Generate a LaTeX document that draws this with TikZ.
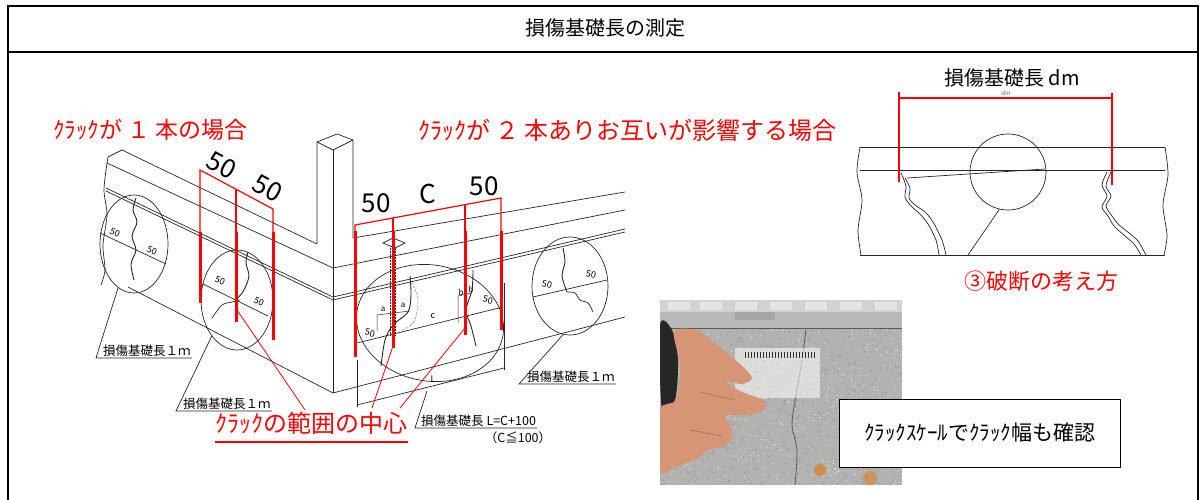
\documentclass[tikz,border=0pt]{standalone}
\usepackage{fontspec}
\setmainfont{Noto Sans CJK JP}
\usetikzlibrary{shapes.geometric}
\definecolor{skin}{RGB}{214,150,118}
\definecolor{granite}{RGB}{178,178,176}
\begin{document}
\begin{tikzpicture}[x=1pt,y=-1pt,
  sk/.style={draw=black!85,line width=0.7pt},
  rthin/.style={draw=red,line width=1.2pt},
  rthick/.style={draw=red,line width=3pt},
  rlead/.style={draw=red,line width=0.8pt},
  ell/.style={ellipse,draw=black!85,line width=0.7pt,inner sep=0pt},
  small/.style={font=\fontsize{8}{8}\selectfont,inner sep=0pt},
  dimlab/.style={font=\fontsize{9}{9}\selectfont,inner sep=0pt},
  sklab/.style={font=\fontsize{12.5}{12.5}\selectfont,inner sep=1pt,anchor=south west},
  big/.style={font=\fontsize{26}{26}\selectfont,inner sep=0pt},
  rtext/.style={text=red,inner sep=0pt},
]
\useasboundingbox (0,0) rectangle (1200,500);
% frame
\draw[line width=1.6pt] (8,500) -- (8,6) -- (1198,6) -- (1198,500);
\draw[line width=1.6pt] (8,52) -- (1198,52);
\node[font=\fontsize{20}{20}\selectfont] (title) at (605,28) {損傷基礎長の測定};

% ---------- left sketch: foundation ----------
\draw[sk] (108,157) -- (122,150) -- (317,244);
\draw[sk] (108,157) -- (107,163) -- (333,268);
\draw[sk] plot[smooth] coordinates {(107,163) (104,190) (107,215) (103,245) (105,270) (101,285)};
\draw[sk] (106,188) -- (333,297);
\draw[sk] (106,191) -- (333,300);
\draw[sk] (128,287) -- (333,393);
\draw[sk] (353,238) -- (625,192);
\draw[sk] (333,268) -- (625,210);
\draw[sk] (333,297) -- (625,229);
\draw[sk] (333,300) -- (625,232);
\draw[sk] (333,393) -- (625,317);
% post
\draw[sk] (317,244) -- (317,142) -- (337,134) -- (353,140) -- (353,238);
\draw[sk] (317,142) -- (333,150) -- (353,140);
\draw[sk] (333,150) -- (333,393);

% ellipse 1
\node[ell,minimum width=68pt,minimum height=98pt] (e1) at (134,244) {};
\draw[sk] (100,233) -- (166,264);
\node[dimlab,rotate=-25] (e1a) at (115,233) {50};
\node[dimlab,rotate=-25] (e1b) at (152,251) {50};
\draw[sk,line width=0.9pt] plot[smooth] coordinates {(136,198) (133,210) (137,222) (132,236) (136,250) (131,264) (134,280)};
\node[sklab] (lab1) at (102,358) {損傷基礎長１ｍ};
\draw[sk] (e1.250) -- ([xshift=-6pt]lab1.south west) -- (lab1.south east);

% ellipse 2
\node[ell,minimum width=72pt,minimum height=100pt] (e2) at (237,300) {};
\draw[sk] (203,284) -- (268,316);
\node[dimlab,rotate=-25] (e2a) at (220,281) {50};
\node[dimlab,rotate=-25] (e2b) at (259,302) {50};
\draw[sk,line width=0.9pt] plot[smooth] coordinates {(248,252) (246,263) (249,276) (244,290) (238,298) (235,303)};
\draw[sk] plot[smooth] coordinates {(212,318) (222,305) (232,302) (240,300)};
\node[sklab] (lab2) at (182,411) {損傷基礎長１ｍ};
\draw[sk] (e2.235) -- ([xshift=-6pt]lab2.south west) -- (lab2.south east);

% red: one crack
\draw[rthin] (200,233) -- (200,170) -- (273,209) -- (273,232);
\draw[rthin] (236,189) -- (236,232);
\draw[rthick] (200,232) -- (200,303);
\draw[rthick] (236,232) -- (236,322);
\draw[rthick] (273,232) -- (273,340);
\node[big,rotate=-28] (d1) at (222,165) {50};
\node[big,rotate=-28] (d2) at (268,188) {50};

% ellipse 3 (two cracks)
\node[ell,minimum width=148pt,minimum height=116pt,rotate=-10] (e3) at (430,323) {};
\draw[sk] (357,343) -- (503,307);
\node[dimlab,rotate=-14] (e3a) at (370,333) {50};
\node[dimlab] (e3c) at (433,316) {c};
\node[dimlab,rotate=-14] (e3b) at (488,300) {50};
\node[small] (ea1) at (383,309) {a};
\node[small] (ea2) at (403,305) {a};
\node[small] (eb1) at (461,292) {b};
\node[small] (eb2) at (471,289) {b};
\draw[sk,line width=0.5pt] (377,331) -- (377,315) -- (410,311);
\draw[sk,line width=0.5pt] (458,323) -- (458,296) -- (472,293);
\draw[sk,line width=0.5pt,densely dotted] (390,246) -- (390,335);
\draw[sk,line width=0.5pt,densely dotted] (395,246) -- (395,335);
\draw[sk,fill=white] (383,243) -- (393,238) -- (405,243) -- (395,248) -- cycle;
\draw[sk,line width=0.9pt] plot[smooth] coordinates {(410,276) (411,295) (408,312) (393,325) (385,340) (381,366)};
\draw[sk,line width=0.5pt,densely dotted] plot[smooth] coordinates {(412,282) (418,300) (414,322) (402,330)};
\draw[sk,line width=0.9pt] plot[smooth] coordinates {(473,270) (472,290) (466,310) (471,326) (476,346)};
% L dimension
\draw[sk] (357,360) -- (357,407);
\draw[sk] (504,283) -- (504,370);
\draw[sk] (357,405) -- (504,368);
\node[dimlab] (lL) at (433,379) {L};
\node[sklab] (lab3) at (420,428) {損傷基礎長 L=C+100};
\node[font=\fontsize{12.5}{12.5}\selectfont,inner sep=0pt] (lab3b) at (518,438) {（C≦100）};
\draw[sk] (427,391) -- ([xshift=-5pt]lab3.south west) -- (lab3.south east);

% ellipse 4
\node[ell,minimum width=76pt,minimum height=98pt] (e4) at (570,286) {};
\draw[sk] (533,297) -- (607,280);
\node[dimlab,rotate=-13] (e4a) at (547,284) {50};
\node[dimlab,rotate=-13] (e4b) at (591,274) {50};
\draw[sk,line width=0.9pt] plot[smooth] coordinates {(563,248) (565,262) (562,276) (567,292)};
\draw[sk] plot[smooth] coordinates {(567,292) (575,293) (580,300) (588,303) (593,312)};
\node[sklab] (lab4) at (526,384) {損傷基礎長１ｍ};
\draw[sk] (e4.262) -- ([xshift=-7pt]lab4.south west) -- (lab4.south east);

% red: two cracks
\draw[rthin] (355,232) -- (355,225) -- (501,198) -- (501,232);
\draw[rthin] (393,218) -- (393,232);
\draw[rthin] (465,205) -- (465,232);
\draw[rthick] (355,231) -- (355,357);
\draw[rthick] (393,231) -- (393,348);
\draw[rthick] (465,231) -- (465,335);
\draw[rthick] (501,231) -- (501,330);
\node[big] (d3) at (376,203) {50};
\node[big] (d4) at (428,194) {C};
\node[big] (d5) at (484,186) {50};

% red titles
\node[rtext,anchor=west,font=\fontsize{23}{23}\selectfont] (t1) at (53,130) {ｸﾗｯｸが １ 本の場合};
\node[rtext,anchor=west,font=\fontsize{24}{24}\selectfont] (t2) at (418,130) {ｸﾗｯｸが ２ 本ありお互いが影響する場合};

% center of crack range
\node[rtext,font=\fontsize{24}{24}\selectfont] (ctr) at (311,423) {ｸﾗｯｸの範囲の中心};
\draw[red,line width=2pt] (215,442) -- (408,442);
\coordinate (m1) at (237,310);
\coordinate (m2) at (393,346);
\coordinate (m3) at (465,328);
\draw[rlead] (305,410) -- (m1);
\draw[rlead] (372,408) -- (m2);
\draw[rlead] (400,408) -- (m3);

% ---------- right sketch: fracture ----------
\node[font=\fontsize{20}{20}\selectfont,inner sep=0pt] (tdm) at (1012,78) {損傷基礎長 dm};
\draw[sk] (860,147) -- (1165,147);
\draw[sk] (860,170) -- (1165,170);
\draw[sk] (860,255) -- (1165,255);
\draw[sk] plot[smooth] coordinates {(860,147) (857,172) (862,200) (858,230) (861,255)};
\draw[sk] plot[smooth] coordinates {(1165,147) (1168,175) (1163,205) (1167,235) (1164,255)};
\draw[sk] (907,178) -- (1045,169);
\node[circle,draw=black!85,line width=0.7pt,minimum size=76pt,inner sep=0pt] (c5) at (1008,172) {};
\draw[sk] (c5.257) -- (968,255);
\draw[sk] plot[smooth] coordinates {(901,173) (906,186) (905,197) (911,206) (920,214) (928,224) (936,240) (939,255)};
\draw[sk] plot[smooth] coordinates {(905,178) (910,188) (909,198) (915,205) (925,212) (933,222) (942,240) (946,255)};
\draw[sk] plot[smooth] coordinates {(1107,172) (1102,185) (1107,196) (1102,207) (1108,216) (1114,226) (1125,236) (1134,244) (1141,255)};
\draw[sk] plot[smooth] coordinates {(1111,172) (1106,186) (1111,196) (1106,206) (1112,216) (1118,224) (1129,233) (1138,241) (1146,255)};
\draw[rthin] (899,98) -- (1112,98);
\draw[rthick,line width=2.5pt] (899,92) -- (899,182);
\draw[rthick,line width=2.5pt] (1112,93) -- (1112,185);
\node[font=\fontsize{6}{6}\selectfont,text=black!60,inner sep=0pt] (sdm) at (1006,93) {dm};
\node[rtext,font=\fontsize{22}{22}\selectfont] (t3) at (1041,281) {③破断の考え方};

% ---------- photo ----------
\begin{scope}
\clip (660,300) rectangle (902,485);
\fill[granite] (660,300) rectangle (902,485);
\fill[gray!55] (660,300) rectangle (902,328);
\fill[gray!35] (660,300) rectangle (902,312);
\foreach \bx in {668,700,735,770,805,840,875} {\fill[gray!20] (\bx,302) rectangle ++(22,8);}
\fill[gray!70] (735,312) rectangle (775,320);
\draw[gray!70!black,line width=0.8pt] (660,328) -- (902,328);
\pgfmathsetseed{11}
\foreach \i in {1,...,900} {
  \pgfmathsetmacro{\px}{660+242*rnd}
  \pgfmathsetmacro{\py}{329+156*rnd}
  \fill[black!55,opacity=0.45] (\px,\py) circle (0.7pt);
}
\foreach \i in {1,...,500} {
  \pgfmathsetmacro{\px}{660+242*rnd}
  \pgfmathsetmacro{\py}{329+156*rnd}
  \fill[white,opacity=0.6] (\px,\py) circle (0.7pt);
}
\draw[black!65,line width=0.8pt] plot[smooth] coordinates {(806,330) (802,360) (796,395) (792,425) (797,450) (795,485)};
\fill[white,opacity=0.55] (735,348) rectangle (820,398);
\foreach \tx in {745,748,...,816} {\draw[black!80,line width=0.5pt] (\tx,352) -- (\tx,358);}
\fill[black!85] plot[smooth cycle] coordinates {(660,325) (672,330) (678,360) (675,400) (662,410)};
\fill[skin] plot[smooth cycle] coordinates {(674,332) (695,330) (716,344) (740,364) (752,378) (742,384) (726,381) (740,391) (763,400) (764,410) (748,415) (726,416) (732,430) (728,444) (708,450) (698,458) (678,466) (660,470) (660,410) (676,400) (680,365)};
\draw[skin!70!black,line width=0.5pt] (700,392) -- (735,400);
\draw[skin!70!black,line width=0.5pt] (690,430) -- (722,436);
\fill[orange!50!brown,opacity=0.7] (820,470) circle (6pt);
\fill[orange!40!brown,opacity=0.6] (870,478) circle (7pt);
\end{scope}

% text box
\node[draw=black,line width=1pt,fill=white,minimum width=281pt,minimum height=68pt,inner sep=0pt,font=\fontsize{21}{21}\selectfont] (box) at (979.5,433) {ｸﾗｯｸｽｹｰﾙでｸﾗｯｸ幅も確認};
\end{tikzpicture}
\end{document}
